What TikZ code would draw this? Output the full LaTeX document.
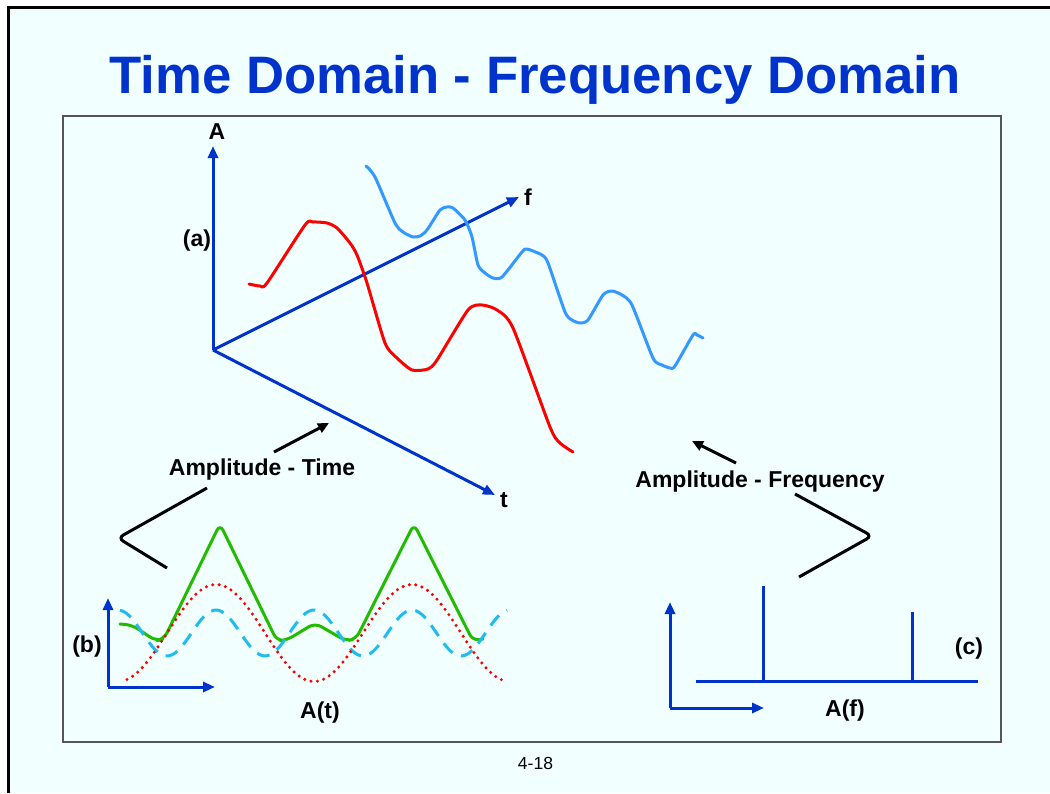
\documentclass[tikz,border=0pt]{standalone}
\usepackage{fontspec}
\setmainfont{Liberation Sans}
\usepackage{tikz}
\usetikzlibrary{arrows.meta}
\definecolor{paper}{HTML}{F2FFFF}
\definecolor{axisblue}{HTML}{0033CC}
\definecolor{wavered}{HTML}{FF0000}
\definecolor{skyblue}{HTML}{3399FF}
\definecolor{dashblue}{HTML}{22BBEE}
\definecolor{sumgreen}{HTML}{22BB00}
\definecolor{frame}{HTML}{555555}

\begin{document}
\begin{tikzpicture}[x=1pt,y=-1pt,
        font=\fontsize{23}{27}\selectfont\bfseries,
        axis/.style={draw=axisblue,line width=3pt,-{Triangle[length=12pt,width=10pt]}},
        wave/.style={line width=3pt,line join=round,line cap=round},
        ptr/.style={draw=black,line width=3pt,-{Triangle[length=11pt,width=10pt]}},
        brace/.style={draw=black,line width=3pt,rounded corners=6pt},
        lab/.style={anchor=base,inner sep=0pt}
      ]
      \useasboundingbox (0,0) rectangle (1050,793);
      % slide
      \fill[paper] (8,6) rectangle (1050,793);
      \draw[line width=3pt] (8.5,793) -- (8.5,7.5) -- (1050,7.5);
      \node[lab,text=axisblue,font=\fontsize{52.7}{60}\selectfont\bfseries] (title) at (535,93) {Time Domain - Frequency Domain};
      \draw[draw=frame,line width=1.5pt] (63,116) rectangle (1001,742);
      \node[lab,font=\fontsize{17.5}{20}\selectfont] (page) at (535.5,769) {4-18};

      % (a) the three axes
      \coordinate (O) at (213,350);
      \coordinate (Atip) at (213,146);
      \coordinate (ftip) at (519,197);
      \coordinate (ttip) at (495,495);
      \draw[axis] (O) -- (Atip);
      \draw[axis] (O) -- (ftip);
      \draw[axis] (O) -- (ttip);
      \node[lab] (A) at (217,139) {A};
      \node[lab] (f) at (528,205) {f};
      \node[lab] (t) at (504,507) {t};
      \node[lab] (a) at (197,246) {(a)};

      % waves along t
      \draw[wave,wavered] plot[smooth,tension=0.4] coordinates {(249,284) (260,286) (267,283) (305,225) (313,222) (327,223) (337,228) (350,243) (357,255) (367,283) (385,343) (397,358) (412,370) (428,369) (437,360) (468,310) (482,305) (497,310) (513,328) (550,427) (560,443) (573,452)};
      \draw[wave,skyblue] plot[smooth,tension=0.4] coordinates {(366,166) (375,177) (395,223) (403,232) (413,237) (420,236) (427,230) (440,210) (447,207) (453,208) (465,220) (472,237) (478,265) (485,273) (493,278) (502,277) (522,252) (527,249) (542,255) (548,263) (565,312) (572,320) (580,323) (588,320) (603,295) (612,291) (622,295) (632,305) (653,358) (662,365) (670,368) (675,366) (693,335) (697,335) (703,338)};

      % pointers
      \coordinate (ptA) at (274,452);
      \coordinate (ptB) at (329,423);
      \draw[ptr] (ptA) -- (ptB);
      \node[lab] (amptime) at (262,475) {Amplitude - Time};
      \coordinate (ptC) at (736,463);
      \coordinate (ptD) at (692,441);
      \draw[ptr] (ptC) -- (ptD);
      \node[lab] (ampfreq) at (760,487) {Amplitude - Frequency};

      \coordinate (bl1) at (207,488);
      \coordinate (bl2) at (118,538);
      \coordinate (bl3) at (167,568);
      \draw[brace] (bl1) -- (bl2) -- (bl3);
      \coordinate (br1) at (795,494);
      \coordinate (br2) at (872,536);
      \coordinate (br3) at (799,577);
      \draw[brace] (br1) -- (br2) -- (br3);

      % (b) time signals
      \coordinate (Ob) at (108,687);
      \coordinate (bup) at (108,598);
      \coordinate (bright) at (215,687);
      \draw[axis] (Ob) -- (bup);
      \draw[axis] (Ob) -- (bright);
      \draw[wave,sumgreen,rounded corners=7pt] (120,624) -- (132,625) -- (156,641) -- (164,639) -- (220,524) -- (277,641) -- (287,640) -- (315,623) -- (346,641) -- (356,639) -- (414,524) -- (473,641) -- (483,639);
      \draw[wave,dashblue,line cap=butt,dash pattern=on 13pt off 9pt] plot[domain=120:507,samples=120] (\x,{633-23*cos(360/98*(\x-216))});
      \draw[wave,wavered,line width=3.4pt,dash pattern=on 0pt off 6.5pt] plot[domain=127:502,samples=120] (\x,{633-48.5*cos(360/196*(\x-216))});
      \node[lab] (b) at (87,652) {(b)};
      \node[lab] (At) at (320,718) {A(t)};

      % (c) spectrum
      \coordinate (Oc) at (670,708);
      \coordinate (cup) at (670,602);
      \coordinate (cright) at (764,708);
      \draw[axis] (Oc) -- (cup);
      \draw[axis] (Oc) -- (cright);
      \coordinate (base1) at (696,681);
      \coordinate (base2) at (978,681);
      \draw[axisblue,line width=3pt] (base1) -- (base2);
      \draw[axisblue,line width=3pt] (763,681) -- (763,586);
      \draw[axisblue,line width=3pt] (912,681) -- (912,612);
      \node[lab] (c) at (969,654) {(c)};
      \node[lab] (Af) at (845,716) {A(f)};
    \end{tikzpicture}
\end{document}
